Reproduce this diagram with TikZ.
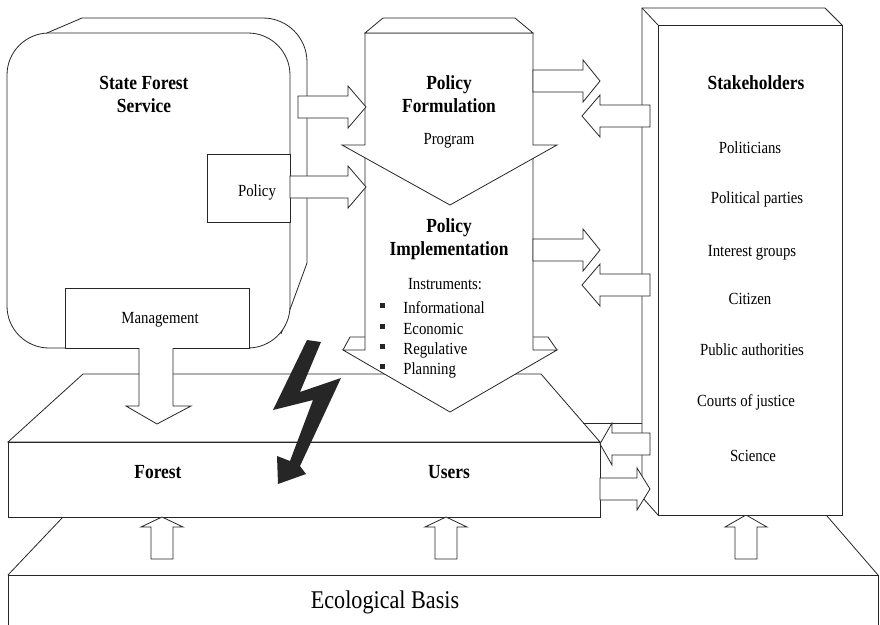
\documentclass[tikz,border=0pt]{standalone}
\usepackage{fontspec}
\setmainfont{Liberation Serif}[FakeStretch=0.87]
\newcommand{\blockH}[4]{% start x, head base x, tip x, centre y
  \draw[wf] (#1,#4-11) -- (#2,#4-11) -- (#2,#4-21) -- (#3,#4) -- (#2,#4+21) -- (#2,#4+11) -- (#1,#4+11) -- cycle;}
\newcommand{\blockV}[4]{% centre x, start y, head base y, tip y
  \draw[wf] (#1-11,#2) -- (#1-11,#3) -- (#1-21,#3) -- (#1,#4) -- (#1+21,#3) -- (#1+11,#3) -- (#1+11,#2) -- cycle;}
\begin{document}
\begin{tikzpicture}[x=1pt,y=-1pt,line width=0.8pt,line join=miter,
  ln/.style={draw=black!85},
  wf/.style={draw=black!85,fill=white},
  bt/.style={font=\fontsize{20}{23}\selectfont\bfseries,anchor=base,inner sep=0pt},
  rt/.style={font=\fontsize{17}{20}\selectfont,anchor=base,inner sep=0pt},
  lt/.style={font=\fontsize{17}{20}\selectfont,anchor=base west,inner sep=0pt},
  bul/.style={fill=black!85}]
\useasboundingbox (0,0) rectangle (880,624);
\fill[white] (0,0) rectangle (880,624);

% ecological basis
\draw[ln] (8,575) -- (63,517);
\draw[ln] (827,516) -- (878,575);
\draw[wf] (8,575) rectangle (878,632);

% forest / users block
\draw[wf] (83,374) -- (541,374) -- (600,442) -- (8,442) -- cycle;
\draw[wf] (8,442) rectangle (600,517);
\draw[ln] (583,423) -- (642,423);

% up arrows from the basis
\blockV{162}{559}{527}{517}
\blockV{446}{559}{527}{517}
\blockV{746}{559}{527}{515}

% state forest service
\draw[ln] (47,33) -- (82,18);
\draw[ln,rounded corners=44pt] (82,18) -- (307,18) -- (307,263);
\draw[ln] (307,263) -- (281,334);
\draw[wf,rounded corners=42pt] (7,33) rectangle (290,348);
\draw[wf] (207,154) rectangle (290,222);
\draw[wf] (65,288) rectangle (249,348);

% management arrow (open into the box)
\fill[white] (139.4,347) rectangle (172.6,407);
\draw[wf] (139,348) -- (139,406) -- (126,406) -- (157,424) -- (191,406) -- (173,406) -- (173,348);

% policy column: implementation part
\draw[wf] (365,145) -- (365,350) -- (343,350) -- (450,412) -- (557,350) -- (533,350) -- (533,145);
\draw[wf] (365,337) -- (350,337) -- (343,350);
\draw[wf] (533,337) -- (548,337) -- (557,350);
% formulation part
\draw[wf] (365,33) -- (365,145) -- (342,145) -- (450,205) -- (557,145) -- (533,145) -- (533,33) -- cycle;
\draw[wf] (365,33) -- (383,18) -- (515,18) -- (533,33) -- cycle;

% stakeholders block
\draw[ln] (642,497) -- (642,8) -- (825,8) -- (842,25);
\draw[ln] (642,8) -- (658,25);
\draw[ln] (642,497) -- (658,515);
\draw[wf] (658,25) rectangle (842,515);

% horizontal block arrows
\blockH{298}{348}{366}{107}
\blockH{290}{348}{366}{187}
\blockH{533}{583}{600}{81}
\blockH{650}{600}{582}{116}
\blockH{533}{583}{600}{250}
\blockH{650}{600}{582}{285}
\blockH{650}{612}{600}{444}
\blockH{600}{637}{650}{489}

% lightning
\fill[black!85] (307,340) -- (321,342) -- (300,392) -- (341,378) -- (300,466) -- (306,474)
  -- (278,484) -- (277,456) -- (290,461) -- (313,400) -- (273,410) -- cycle;

% texts
\node[bt] (sfs1) at (144,89) {State Forest};
\node[bt] (sfs2) at (144,112) {Service};
\node[rt] (pol) at (257,196) {Policy};
\node[rt] (man) at (160,323) {Management};
\node[bt] (pf1) at (449,89) {Policy};
\node[bt] (pf2) at (449,112) {Formulation};
\node[rt] (prog) at (449,144) {Program};
\node[bt] (pi1) at (449,232) {Policy};
\node[bt] (pi2) at (449,255) {Implementation};
\node[rt] (ins) at (445,289) {Instruments:};
\fill[bul] (380,303) rectangle (384.5,307.5);
\fill[bul] (380,324) rectangle (384.5,328.5);
\fill[bul] (380,344) rectangle (384.5,348.5);
\fill[bul] (380,364) rectangle (384.5,368.5);
\node[lt] (i1) at (403,313) {Informational};
\node[lt] (i2) at (403,334) {Economic};
\node[lt] (i3) at (403,354) {Regulative};
\node[lt] (i4) at (403,374) {Planning};
\node[bt] (sh) at (756,89) {Stakeholders};
\node[rt] (s1) at (750,153) {Politicians};
\node[rt] (s2) at (757,203) {Political parties};
\node[rt] (s3) at (752,256) {Interest groups};
\node[rt] (s4) at (750,304) {Citizen};
\node[rt] (s5) at (752,355) {Public authorities};
\node[rt] (s6) at (746,406) {Courts of justice};
\node[rt] (s7) at (753,461) {Science};
\node[bt] (for) at (158,478) {Forest};
\node[bt] (usr) at (449,478) {Users};
\node[font=\fontsize{25.5}{28}\selectfont,anchor=base,inner sep=0pt] (eco) at (385,608) {Ecological Basis};
\end{tikzpicture}
\end{document}
